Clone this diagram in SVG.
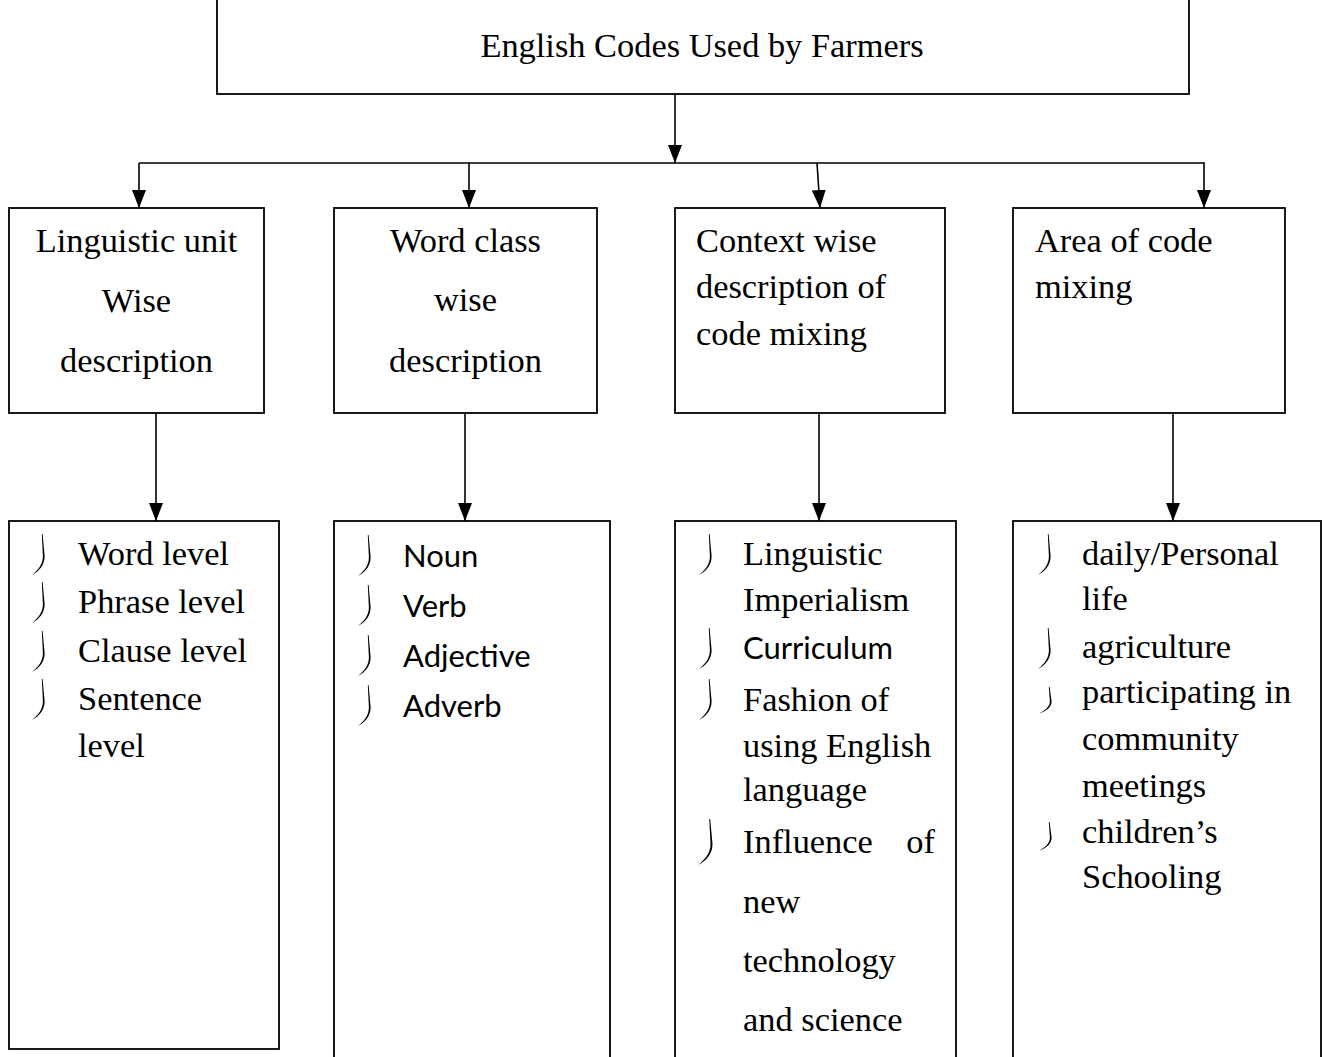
<svg xmlns="http://www.w3.org/2000/svg" width="1323" height="1057" viewBox="0 0 1323 1057">
<style>
.box{fill:#fff;stroke:#000;stroke-width:1.8}
.t{font-family:"Liberation Serif","Times New Roman",serif;font-size:34.4px;fill:#000}
.c{font-family:Lato,"Noto Sans",sans-serif;font-size:31px;fill:#000}
.mid{text-anchor:middle}
.ln{stroke:#000;stroke-width:1.6;fill:none}
.bul{fill:#000}
</style>
<defs>
<marker id="ah" markerUnits="userSpaceOnUse" markerWidth="18" markerHeight="14" viewBox="0 0 18 14" refX="18" refY="7" orient="auto">
<path d="M0,0 L18,7 L0,14 Z" fill="#000"/>
</marker>
<path id="b" class="bul" d="M10.6,0 L12.6,22 C12.8,30 8,37 0,41 C6.2,36 11,30 10.9,22 L9.8,0 Z"/>
</defs>
<rect width="1323" height="1057" fill="#fff"/>
<g id="connectors">
<line class="ln" x1="675" y1="94" x2="675" y2="163" marker-end="url(#ah)"/>
<line class="ln" x1="139" y1="163" x2="1205" y2="163"/>
<line class="ln" x1="139" y1="163" x2="139" y2="208" marker-end="url(#ah)"/>
<line class="ln" x1="469" y1="163" x2="469" y2="208" marker-end="url(#ah)"/>
<line class="ln" x1="817" y1="163" x2="820" y2="208" marker-end="url(#ah)"/>
<line class="ln" x1="1204" y1="163" x2="1204" y2="208" marker-end="url(#ah)"/>
<line class="ln" x1="156" y1="413" x2="156" y2="521" marker-end="url(#ah)"/>
<line class="ln" x1="465" y1="413" x2="465" y2="521" marker-end="url(#ah)"/>
<line class="ln" x1="819" y1="413" x2="819" y2="521" marker-end="url(#ah)"/>
<line class="ln" x1="1173" y1="413" x2="1173" y2="521" marker-end="url(#ah)"/>
</g>
<g id="root">
<rect class="box" x="217" y="-2" width="972" height="96"/>
<text class="t mid" x="702" y="57">English Codes Used by Farmers</text>
</g>
<g id="linguistic-unit">
<rect class="box" x="9" y="208" width="255" height="205"/>
<text class="t mid" x="136.5" y="252">Linguistic unit</text>
<text class="t mid" x="136.5" y="312">Wise</text>
<text class="t mid" x="136.5" y="372">description</text>
</g>
<g id="word-class">
<rect class="box" x="334" y="208" width="263" height="205"/>
<text class="t mid" x="465.5" y="252">Word class</text>
<text class="t mid" x="465.5" y="311">wise</text>
<text class="t mid" x="465.5" y="372">description</text>
</g>
<g id="context-wise">
<rect class="box" x="675" y="208" width="270" height="205"/>
<text class="t" x="696" y="252">Context wise</text>
<text class="t" x="696" y="298">description of</text>
<text class="t" x="696" y="345">code mixing</text>
</g>
<g id="area">
<rect class="box" x="1013" y="208" width="272" height="205"/>
<text class="t" x="1035" y="252">Area of code</text>
<text class="t" x="1035" y="298">mixing</text>
</g>
<g id="levels">
<rect class="box" x="9" y="521" width="270" height="528"/>
<use href="#b" x="32" y="534"/>
<use href="#b" x="32" y="582"/>
<use href="#b" x="32" y="631"/>
<use href="#b" x="32" y="679"/>
<text class="t" x="78" y="565">Word level</text>
<text class="t" x="78" y="613">Phrase level</text>
<text class="t" x="78" y="662">Clause level</text>
<text class="t" x="78" y="710">Sentence</text>
<text class="t" x="78" y="757">level</text>
</g>
<g id="word-classes">
<rect class="box" x="334" y="521" width="276" height="545"/>
<use href="#b" x="358" y="535"/>
<use href="#b" x="358" y="585"/>
<use href="#b" x="358" y="635"/>
<use href="#b" x="358" y="685"/>
<text class="c" x="403" y="567">Noun</text>
<text class="c" x="403" y="617">Verb</text>
<text class="c" x="403" y="667">Adjective</text>
<text class="c" x="403" y="717">Adverb</text>
</g>
<g id="contexts">
<rect class="box" x="675" y="521" width="281" height="545"/>
<use href="#b" x="699" y="534"/>
<use href="#b" x="699" y="628"/>
<use href="#b" x="699" y="679"/>
<use href="#b" transform="translate(698 819) scale(1.15 1.12)"/>
<text class="t" x="743" y="565">Linguistic</text>
<text class="t" x="743" y="611">Imperialism</text>
<text class="c" x="743" y="659">Curriculum</text>
<text class="t" x="743" y="711">Fashion of</text>
<text class="t" x="743" y="757">using English</text>
<text class="t" x="743" y="801">language</text>
<text class="t" x="743" y="853">Influence</text>
<text class="t" x="935" y="853" text-anchor="end">of</text>
<text class="t" x="743" y="913">new</text>
<text class="t" x="743" y="972">technology</text>
<text class="t" x="743" y="1031">and science</text>
</g>
<g id="areas">
<rect class="box" x="1013" y="521" width="308" height="545"/>
<use href="#b" x="1038" y="534"/>
<use href="#b" x="1038" y="628"/>
<use href="#b" transform="translate(1039 687) scale(1 0.65)"/>
<use href="#b" transform="translate(1039 822) scale(1 0.7)"/>
<text class="t" x="1082" y="565">daily/Personal</text>
<text class="t" x="1082" y="610">life</text>
<text class="t" x="1082" y="658">agriculture</text>
<text class="t" x="1082" y="703">participating in</text>
<text class="t" x="1082" y="750">community</text>
<text class="t" x="1082" y="797">meetings</text>
<text class="t" x="1082" y="843">children’s</text>
<text class="t" x="1082" y="888">Schooling</text>
</g>
</svg>
